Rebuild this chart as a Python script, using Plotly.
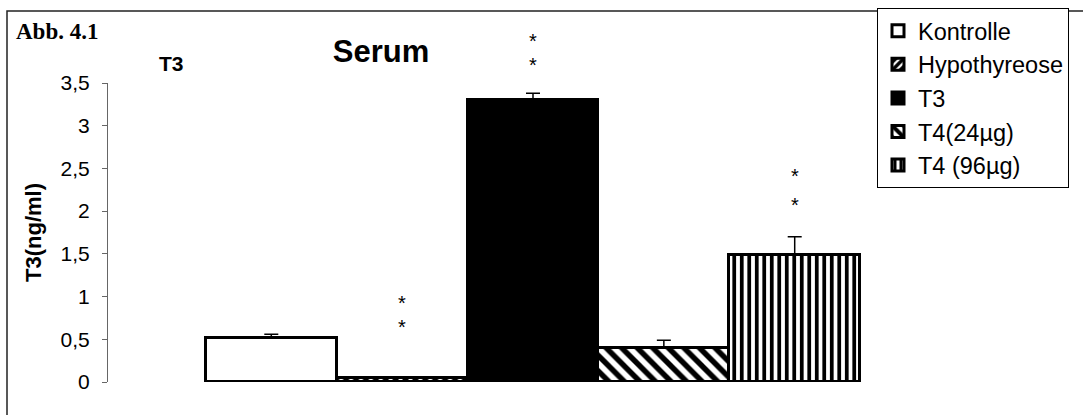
import plotly.graph_objects as go

# T3 serum concentration per treatment group (ng/ml)
groups = ["Kontrolle", "Hypothyreose", "T3", "T4(24µg)", "T4 (96µg)"]
t3_mean = [0.52, 0.05, 3.30, 0.40, 1.49]
t3_err = [0.04, 0.0, 0.08, 0.09, 0.21]
# positions of the significance asterisks (two per marked group)
star_groups = ["Hypothyreose", "Hypothyreose", "T3", "T3", "T4 (96µg)", "T4 (96µg)"]
star_y = [0.98, 0.70, 4.05, 3.77, 2.47, 2.13]
y_ticks = [0, 0.5, 1, 1.5, 2, 2.5, 3, 3.5]
Y_MAX = 3.5

# fill styles per group
fills = [
    dict(color="white", pattern=None),
    dict(color="white", pattern=dict(shape="/", fgcolor="black", bgcolor="white",
                                     fillmode="replace", size=7, solidity=0.6)),
    dict(color="black", pattern=None),
    dict(color="white", pattern=dict(shape="\\", fgcolor="black", bgcolor="white",
                                     fillmode="replace", size=11, solidity=0.5)),
    dict(color="white", pattern=dict(shape="|", fgcolor="black", bgcolor="white",
                                     fillmode="replace", size=7.5, solidity=0.5)),
]

SANS = "Liberation Sans, Arial, sans-serif"
W, H = 1083, 415
L, R, T, B = 108, 958, 83, 382   # plot area in pixels

fig = go.Figure()
for g, m, e, f in zip(groups, t3_mean, t3_err, fills):
    marker = dict(color=f["color"], line=dict(color="black", width=3))
    if f["pattern"] is not None:
        marker["pattern"] = f["pattern"]
    fig.add_trace(go.Bar(
        x=[g], y=[m], name=g, width=1, marker=marker,
        error_y=dict(type="data", symmetric=False, array=[e], arrayminus=[0],
                     color="black", thickness=1.5, width=7, visible=e > 0),
    ))

# asterisks: y given in ng/ml, placed on paper so marks above the axis range still show
for g, y in zip(star_groups, star_y):
    fig.add_annotation(x=g, y=y / Y_MAX, xref="x", yref="paper", text="*", showarrow=False,
                       font=dict(family=SANS, size=20, color="black"),
                       yanchor="middle", yshift=-5)

def px_x(p):
    return (p - L) / (R - L)

def px_y(p):
    return (B - p) / (B - T)

# outer chart frame
fig.add_shape(type="rect", xref="paper", yref="paper",
              x0=px_x(7), x1=px_x(1100), y0=px_y(430), y1=px_y(11),
              line=dict(color="#222", width=1.5), fillcolor="rgba(0,0,0,0)")

fig.add_annotation(xref="paper", yref="paper", x=px_x(14), y=px_y(32),
                   xanchor="left", yanchor="middle", showarrow=False,
                   text="<b>Abb. 4.1</b>",
                   font=dict(family="Liberation Serif, Times New Roman, serif", size=23, color="black"))
fig.add_annotation(xref="paper", yref="paper", x=px_x(171), y=px_y(63),
                   xanchor="center", yanchor="middle", showarrow=False,
                   text="<b>T3</b>", font=dict(family=SANS, size=21, color="black"))

fig.update_layout(
    width=W, height=H,
    margin=dict(l=L, r=W - R, t=T, b=H - B, autoexpand=False),
    paper_bgcolor="white", plot_bgcolor="white",
    separators=",.",
    barmode="overlay", bargap=0,
    title=dict(text="<b>Serum</b>", x=381 / W, xanchor="center",
               y=1 - 51 / H, yanchor="middle",
               font=dict(family=SANS, size=31, color="black")),
    font=dict(family=SANS, color="black"),
    showlegend=True,
    legend=dict(xref="container", yref="container", x=877 / W, y=1 - 8 / H,
                xanchor="left", yanchor="top", bgcolor="white",
                bordercolor="black", borderwidth=1,
                font=dict(family=SANS, size=23.5, color="black"),
                traceorder="normal"),
    xaxis=dict(range=[-1.248, 5.248], showticklabels=False, ticks="",
               showline=False, showgrid=False, zeroline=False,
               categoryorder="array", categoryarray=groups),
    yaxis=dict(range=[0, Y_MAX], tickvals=y_ticks, ticks="outside", ticklen=5,
               tickcolor="#666", showline=True, linecolor="#666", linewidth=1,
               showgrid=False, zeroline=False, ticklabelstandoff=8,
               tickfont=dict(family=SANS, size=21, color="black"),
               title=dict(text="<b>T3(ng/ml)</b>", standoff=12,
                          font=dict(family=SANS, size=22, color="black"))),
)

fig.write_html("out.html")
